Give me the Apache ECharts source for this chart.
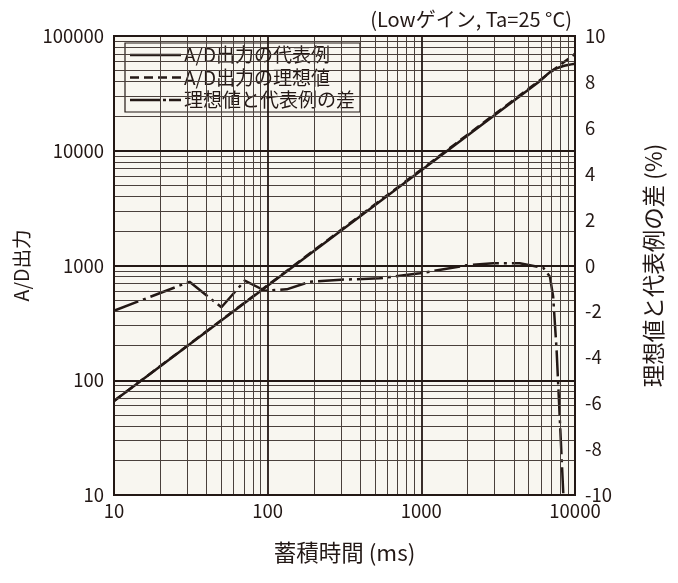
<!DOCTYPE html>
<html><head><meta charset="utf-8">
<script src="https://cdn.jsdelivr.net/npm/echarts@6/dist/echarts.min.js"></script>
<style>html,body{margin:0;padding:0;background:#fff}#c{width:678px;height:583px}</style>
</head><body><div id="c"></div>
<script>
// A/D output (typical)
const adX = [10, 5920, 7050, 8400, 10000];
const adY = [66, 40600, 49700, 54800, 57400];
// A/D output (ideal)
const idealX = [10, 10000];
const idealY = [66, 70000];
// difference between ideal and typical (%)
const diffX = [10, 31, 50, 71, 96, 133, 188, 300, 535, 980, 1970, 2940, 4370, 6210, 6870, 7210, 7590, 8400];
const diffY = [-1.97, -0.71, -1.82, -0.66, -1.10, -1.04, -0.71, -0.62, -0.56, -0.34, 0.01, 0.10, 0.10, -0.10, -0.49, -1.36, -3.68, -10];
// grid lines
const xMajor = [10, 100, 1000, 10000];
const xMinor = [20,30,40,50,60,70,80,90,200,300,400,500,600,700,800,900,2000,3000,4000,5000,6000,7000,8000,9000];
const yMajor = [10, 100, 1000, 10000, 100000];
const yMinor = [20,30,40,50,60,70,80,90,200,300,400,500,600,700,800,900,2000,3000,4000,5000,6000,7000,8000,9000,20000,30000,40000,50000,60000,70000,80000,90000];
const seriesNames = ['A/D出力の代表例', 'A/D出力の理想値', '理想値と代表例の差'];

const ink = '#231815';
const font = '"Noto Sans CJK JP", "Noto Sans", sans-serif';
const zip = (xs, ys) => xs.map((x, i) => [x, ys[i]]);

const gridLines = [];
xMinor.forEach(v => gridLines.push({xAxis: v, lineStyle: {width: 1, color: '#4a403c', type: 'solid'}}));
yMinor.forEach(v => gridLines.push({yAxis: v, lineStyle: {width: 1, color: '#4a403c', type: 'solid'}}));
xMajor.forEach(v => gridLines.push({xAxis: v, lineStyle: {width: 1.8, color: ink, type: 'solid'}}));
yMajor.forEach(v => gridLines.push({yAxis: v, lineStyle: {width: 1.8, color: ink, type: 'solid'}}));

const plain = v => String(v);

// legend key glyphs (51 x 2.5 strokes)
const iconSolid = 'path://M0,0H51V2.5H0Z';
const iconDash = 'path://M0,0H9V2.5H0Z M14,0H23V2.5H14Z M28,0H37V2.5H28Z M42,0H51V2.5H42Z';
const iconDashDot = 'path://M0,0H30V2.5H0Z M33,0H36V2.5H33Z M39,0H51V2.5H39Z';

const chart = echarts.init(document.getElementById('c'), null, {renderer: 'canvas'});
chart.setOption({
  animation: false,
  textStyle: {fontFamily: font, color: ink},
  title: {
    text: '(Lowゲイン, Ta=25 °C)', right: 101, top: 4,
    textStyle: {fontFamily: font, fontSize: 20, fontWeight: 'normal', color: ink}
  },
  grid: {left: 114, right: 103, top: 36, bottom: 88, show: true,
    outerBoundsMode: 'none', containLabel: false,
    backgroundColor: '#f8f6f0', borderColor: ink, borderWidth: 2},
  legend: {
    data: [
      {name: seriesNames[0], icon: iconSolid},
      {name: seriesNames[1], icon: iconDash},
      {name: seriesNames[2], icon: iconDashDot}
    ],
    orient: 'vertical', left: 125, top: 43,
    itemWidth: 51, itemHeight: 2.5, itemGap: 2.5, padding: [2, 5, 2, 5],
    backgroundColor: '#f8f6f0', borderColor: ink, borderWidth: 1.2, borderRadius: 0,
    itemStyle: {color: ink, borderWidth: 0},
    textStyle: {fontFamily: font, fontSize: 19, lineHeight: 20, color: ink, padding: [0, 0, 0, -2]}
  },
  xAxis: {
    type: 'log', logBase: 10, min: 10, max: 10000,
    name: '蓄積時間 (ms)', nameLocation: 'middle', nameGap: 46,
    nameTextStyle: {fontFamily: font, fontSize: 22.5, color: ink},
    axisLine: {show: true, lineStyle: {color: ink, width: 2}},
    axisTick: {show: false}, splitLine: {show: false},
    axisLabel: {fontFamily: font, fontSize: 18.5, color: ink, margin: 7, formatter: plain}
  },
  yAxis: [{
    type: 'log', logBase: 10, min: 10, max: 100000,
    name: 'A/D出力', nameLocation: 'middle', nameGap: 78, nameRotate: 90,
    nameTextStyle: {fontFamily: font, fontSize: 19.5, color: ink},
    axisLine: {show: true, lineStyle: {color: ink, width: 2}},
    axisTick: {show: false}, splitLine: {show: false},
    axisLabel: {fontFamily: font, fontSize: 18.5, color: ink, margin: 10, formatter: plain}
  }, {
    type: 'value', position: 'right', min: -10, max: 10, interval: 2,
    name: '理想値と代表例の差 (%)', nameLocation: 'middle', nameGap: 67, nameRotate: 90,
    nameTextStyle: {fontFamily: font, fontSize: 22.5, color: ink},
    axisLine: {show: true, lineStyle: {color: ink, width: 2}},
    axisTick: {show: false}, splitLine: {show: false},
    axisLabel: {fontFamily: font, fontSize: 18.5, color: ink, margin: 10}
  }],
  series: [{
    name: 'grid', type: 'line', yAxisIndex: 0, z: 1, silent: true,
    data: [[10, 10]], symbol: 'none', lineStyle: {width: 0, opacity: 0},
    markLine: {silent: true, symbol: ['none', 'none'], label: {show: false},
      lineStyle: {type: 'solid'}, animation: false, data: gridLines}
  }, {
    name: seriesNames[1], type: 'line', yAxisIndex: 0, z: 3,
    data: zip(idealX, idealY), symbol: 'none',
    lineStyle: {color: ink, width: 2.5, type: [9, 5]}, itemStyle: {color: ink}
  }, {
    name: seriesNames[0], type: 'line', yAxisIndex: 0, z: 4, smooth: 0.3,
    data: zip(adX, adY), symbol: 'none',
    lineStyle: {color: ink, width: 2.5}, itemStyle: {color: ink}
  }, {
    name: seriesNames[2], type: 'line', yAxisIndex: 1, z: 4,
    data: zip(diffX, diffY), symbol: 'none',
    lineStyle: {color: ink, width: 2.5, type: [26, 5, 3, 5]}, itemStyle: {color: ink}
  }]
});
</script></body></html>
